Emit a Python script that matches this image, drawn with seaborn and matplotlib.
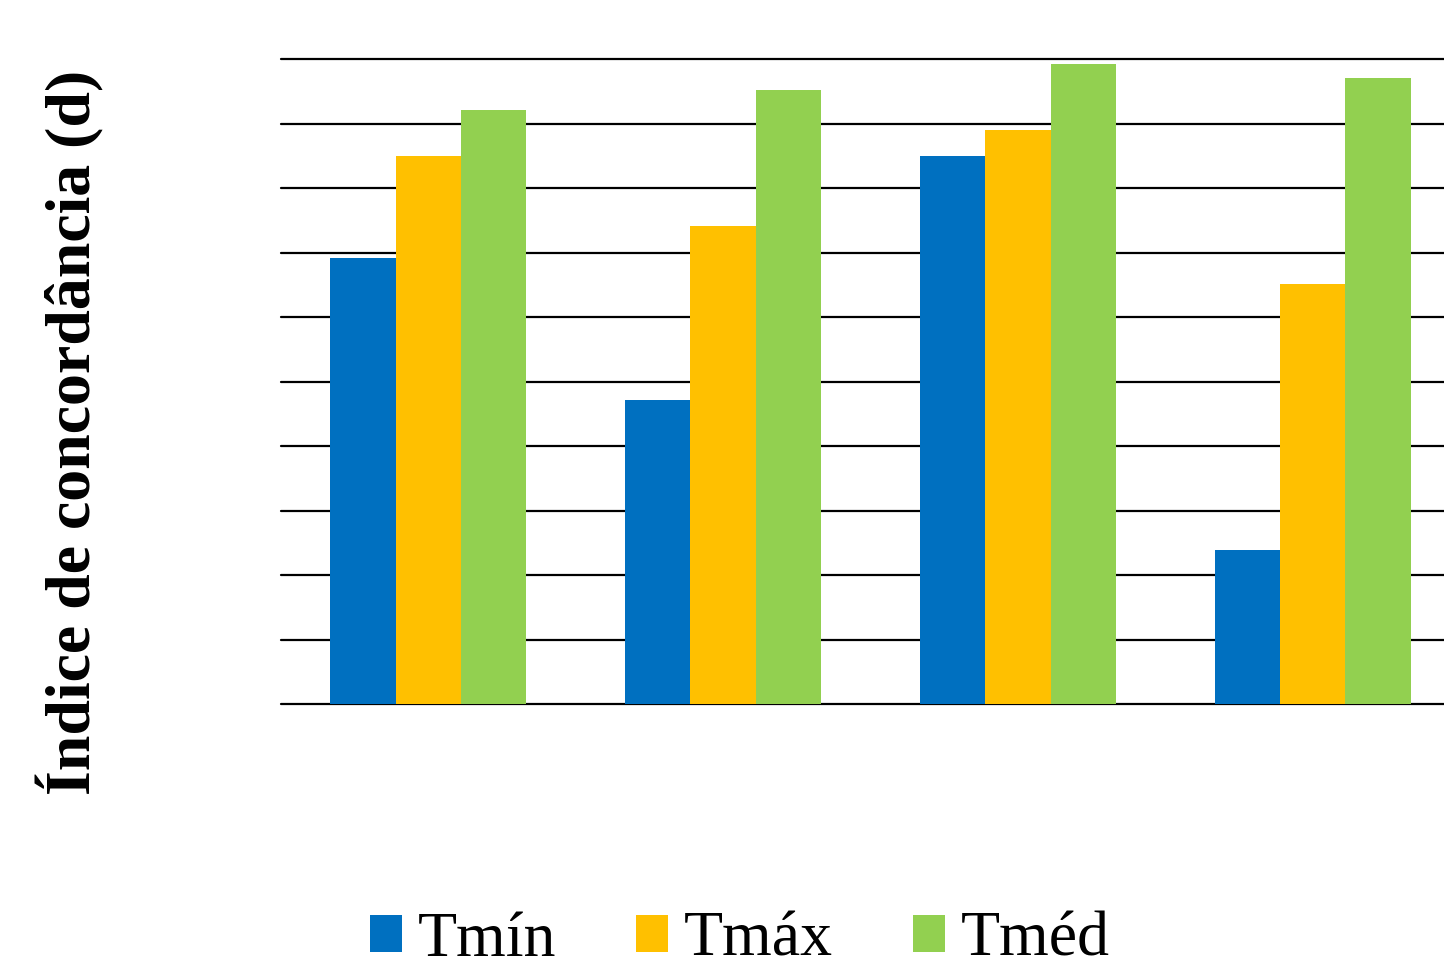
import numpy as np
import pandas as pd
import matplotlib
matplotlib.use("Agg")
import matplotlib.pyplot as plt
import seaborn as sns

# Agreement index (d) per period and temperature series
periodos = ["P1", "P2", "P3", "P4"]
series = ["Tmín", "Tmáx", "Tméd"]
tmin = [0.691, 0.471, 0.850, 0.239]
tmax = [0.850, 0.741, 0.890, 0.651]
tmed = [0.921, 0.952, 0.992, 0.971]
cores = ["#0070C0", "#FFC000", "#92D050"]
yticks = [round(v * 0.1, 1) for v in range(11)]

df = pd.DataFrame({
    "periodo": periodos * 3,
    "serie": [s for s in series for _ in periodos],
    "d": tmin + tmax + tmed,
})

sns.set_theme(style="white")
plt.rcParams["font.family"] = ["Liberation Serif", "DejaVu Serif"]
plt.rcParams["text.color"] = "black"

W, H = 1444, 969
fig = plt.figure(figsize=(W / 100, H / 100), dpi=100)
ax = fig.add_axes([281 / W, (H - 704) / H, 1179 / W, 645 / H])

sns.barplot(data=df, x="periodo", y="d", hue="serie", order=periodos,
            hue_order=series, palette=cores, saturation=1, width=0.665,
            linewidth=0, errorbar=None, ax=ax, zorder=3)

ax.set_ylim(0, 1.0)
ax.set_xlim(-0.5, len(periodos) - 0.5)
ax.set_yticks(yticks)
ax.yaxis.grid(True, color="black", linewidth=1.6, zorder=0)
for gl in ax.get_ygridlines():
    gl.set_clip_on(False)
ax.xaxis.grid(False)
ax.set_axisbelow(True)
ax.tick_params(left=False, bottom=False, labelleft=False, labelbottom=False)
for s in ax.spines.values():
    s.set_visible(False)
ax.set_xlabel("")
ax.set_ylabel("")

fig.text(70 / W, 1 - 432 / H, "Índice de concordância (d)", rotation=90,
         fontsize=46, fontweight="bold", ha="center", va="center",
         color="black")

handles, labels = ax.get_legend_handles_labels()
leg = ax.legend(handles, labels, loc="center",
                bbox_to_anchor=(740 / W, 1 - 941 / H),
                bbox_transform=fig.transFigure, ncol=3, frameon=False,
                fontsize=46, handlelength=0.5, handleheight=0.5,
                handletextpad=0.25, columnspacing=1.25,
                borderpad=0.0, borderaxespad=0.0)
for t in leg.get_texts():
    t.set_color("black")

fig.savefig("out.png", dpi=100)
